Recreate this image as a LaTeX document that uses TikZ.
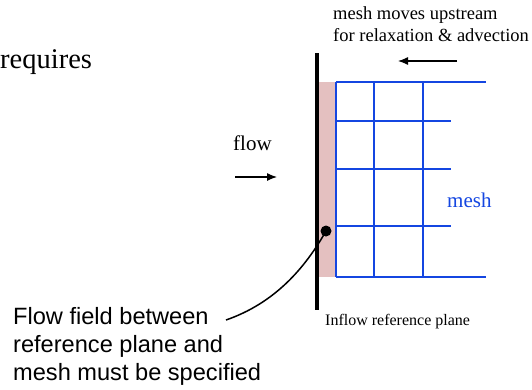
\documentclass[tikz,border=0pt]{standalone}
\usepackage{fontspec}
\setmainfont{Liberation Serif}
\newfontfamily\arialf{Liberation Sans}
\usetikzlibrary{arrows.meta}
\definecolor{meshblue}{RGB}{20,70,225}
\definecolor{plane}{RGB}{228,192,192}
\tikzset{
  serif/.style={inner sep=0pt, anchor=base west, font=\fontsize{#1}{#1}\selectfont},
  gridline/.style={meshblue, line width=1.8pt},
  arr/.style={line width=1.2pt, -{Latex[length=10pt,width=8pt]}},
}
\begin{document}
\begin{tikzpicture}[x=1pt,y=-1pt]
\useasboundingbox (0,0) rectangle (532,389);
% texts
\node[serif=28.5] (req) at (0,68) {requires};
\node[serif=18.5] (mv1) at (333,19.5) {mesh moves upstream};
\node[serif=18.5] (mv2) at (333,41.5) {for relaxation \& advection};
\node[serif=21] (flow) at (233,150) {flow};
\node[serif=21, text=meshblue] (meshlbl) at (447,207) {mesh};
\node[serif=16] (inflow) at (325,325) {Inflow reference plane};
\node[inner sep=0pt, anchor=north west, align=left,
      font=\arialf\fontsize{23.6}{27.6}\selectfont] (ff) at (13,307.5)
      {Flow field between\\reference plane and\\mesh must be specified};
% reference plane band
\fill[plane] (317,82) rectangle (336,277);
\draw[line width=3.2pt] (317,53) coordinate (pt) -- (317,310) coordinate (pb);
% mesh
\foreach \x in {336,374,423} \draw[gridline] (\x,82) -- (\x,277);
\foreach \y/\e in {82/486,121/451,169/451,226/451,277/486} \draw[gridline] (336,\y) -- (\e,\y);
% arrows
\coordinate (ua1) at (457,61); \coordinate (ua2) at (398,61);
\draw[arr] (ua1) -- (ua2);
\coordinate (fa1) at (235,177); \coordinate (fa2) at (277,177);
\draw[arr] (fa1) -- (fa2);
% pointer
\node[circle, fill=black, inner sep=0pt, minimum size=11pt] (dot) at (326,231) {};
\coordinate (lend) at (226,320);
\draw[line width=1.5pt] (dot.center) .. controls (305,268) and (275,303) .. (lend);
\end{tikzpicture}
\end{document}
